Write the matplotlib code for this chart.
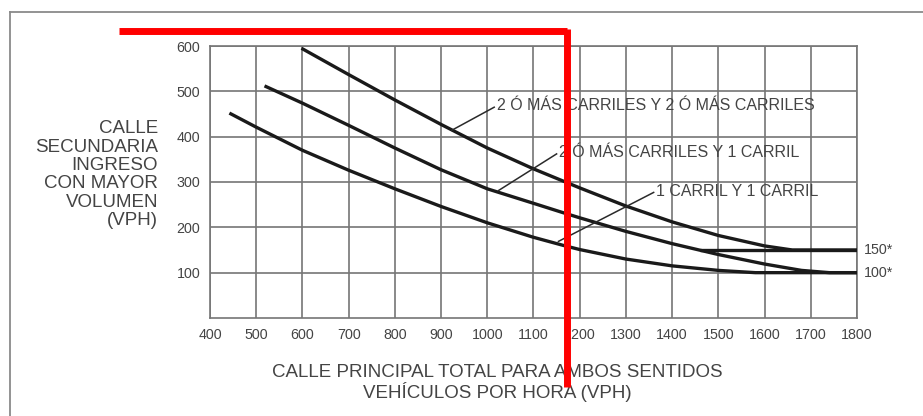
import matplotlib.pyplot as plt
from matplotlib.lines import Line2D

plt.rcParams['font.family'] = ['Liberation Sans', 'DejaVu Sans']

# curve readings: total major-street volume (x) vs minor-street approach volume (y)
x_2y2 = [598, 700, 800, 900, 1000, 1100, 1200, 1300, 1400, 1500, 1600, 1660, 1800]
y_2y2 = [595, 537, 481, 427, 375, 329, 287, 247, 212, 182, 159, 150, 150]

x_2y1 = [518, 600, 700, 800, 900, 1000, 1100, 1165, 1200, 1300, 1400, 1500, 1600, 1680, 1740, 1800]
y_2y1 = [512, 474, 425, 375, 327, 285, 253, 232, 221, 191, 164, 140, 119, 105, 100, 100]

x_1y1 = [442, 500, 600, 700, 800, 900, 1000, 1100, 1165, 1200, 1300, 1400, 1500, 1580, 1800]
y_1y1 = [452, 421, 370, 326, 285, 246, 210, 178, 160, 151, 130, 115, 105, 100, 100]

# lower threshold segment at 150 vph
x_floor150 = [1460, 1800]
y_floor150 = [150, 150]

x_ticks = list(range(400, 1900, 100))
y_ticks = [100, 200, 300, 400, 500, 600]

# curve labels: text, text anchor (x, y), leader end on the curve (x, y)
labels = [
    ("2 Ó MÁS CARRILES Y 2 Ó MÁS CARRILES", (1015, 465), (923, 414)),
    ("2 Ó MÁS CARRILES Y 1 CARRIL", (1150, 362), (1024, 281)),
    ("1 CARRIL Y 1 CARRIL", (1360, 277), (1154, 169)),
]
end_labels = [("150*", 150), ("100*", 100)]

# red marker drawn over the chart
marker_x = 1173
marker_top = 633
marker_bottom = -153
marker_left = 203

fig = plt.figure(figsize=(9.23, 4.16), dpi=100)
ax = fig.add_axes([0.2275, 0.2356, 0.701, 0.6538])

grid_col = '#767676'
ax.set_xlim(400, 1800)
ax.set_ylim(0, 600)
ax.set_xticks(x_ticks)
ax.set_yticks(y_ticks)
ax.grid(True, color=grid_col, linewidth=1.2)
ax.set_axisbelow(True)
for s in ax.spines.values():
    s.set_color(grid_col)
    s.set_linewidth(1.2)
ax.tick_params(length=0, pad=7, labelsize=10.3, colors='#444444')

lw = 2.4
for xs, ys in [(x_2y2, y_2y2), (x_2y1, y_2y1), (x_1y1, y_1y1), (x_floor150, y_floor150)]:
    ax.plot(xs, ys, color='#1a1a1a', linewidth=lw, solid_capstyle='butt', zorder=3)

for text, (tx, ty), (cx, cy) in labels:
    ax.plot([tx, cx], [ty, cy], color='#2a2a2a', linewidth=1.1, zorder=3)
    ax.text(tx + 5, ty + 3, text, fontsize=11.5, color='#444444',
            ha='left', va='center', zorder=4)

for text, yv in end_labels:
    ax.text(1815, yv, text, fontsize=10.3, color='#444444', ha='left', va='center',
            clip_on=False)

ax.text(-0.08, 0.527, "CALLE\nSECUNDARIA\nINGRESO\nCON MAYOR\nVOLUMEN\n(VPH)",
        transform=ax.transAxes, ha='right', va='center', fontsize=13.5,
        color='#444444', linespacing=1.1)
ax.text(0.4436, -0.168, "CALLE PRINCIPAL TOTAL PARA AMBOS SENTIDOS\nVEHÍCULOS POR HORA (VPH)",
        transform=ax.transAxes, ha='center', va='top', fontsize=13.5,
        color='#444444', linespacing=1.1)

# red marker lines
red_kw = dict(color='#ff0000', linewidth=5, clip_on=False, zorder=6,
              solid_capstyle='butt')
ax.plot([marker_left, marker_x], [marker_top, marker_top], **red_kw)
ax.plot([marker_x, marker_x], [marker_top + 4, marker_bottom], **red_kw)

# page frame around the figure
frame_kw = dict(color='#8a8a8a', linewidth=1.3, transform=fig.transFigure)
fig.add_artist(Line2D([10 / 923, 10 / 923], [0, 1 - 12 / 416], **frame_kw))
fig.add_artist(Line2D([10 / 923, 1], [1 - 12 / 416, 1 - 12 / 416], **frame_kw))

fig.savefig('out.png', dpi=100)
